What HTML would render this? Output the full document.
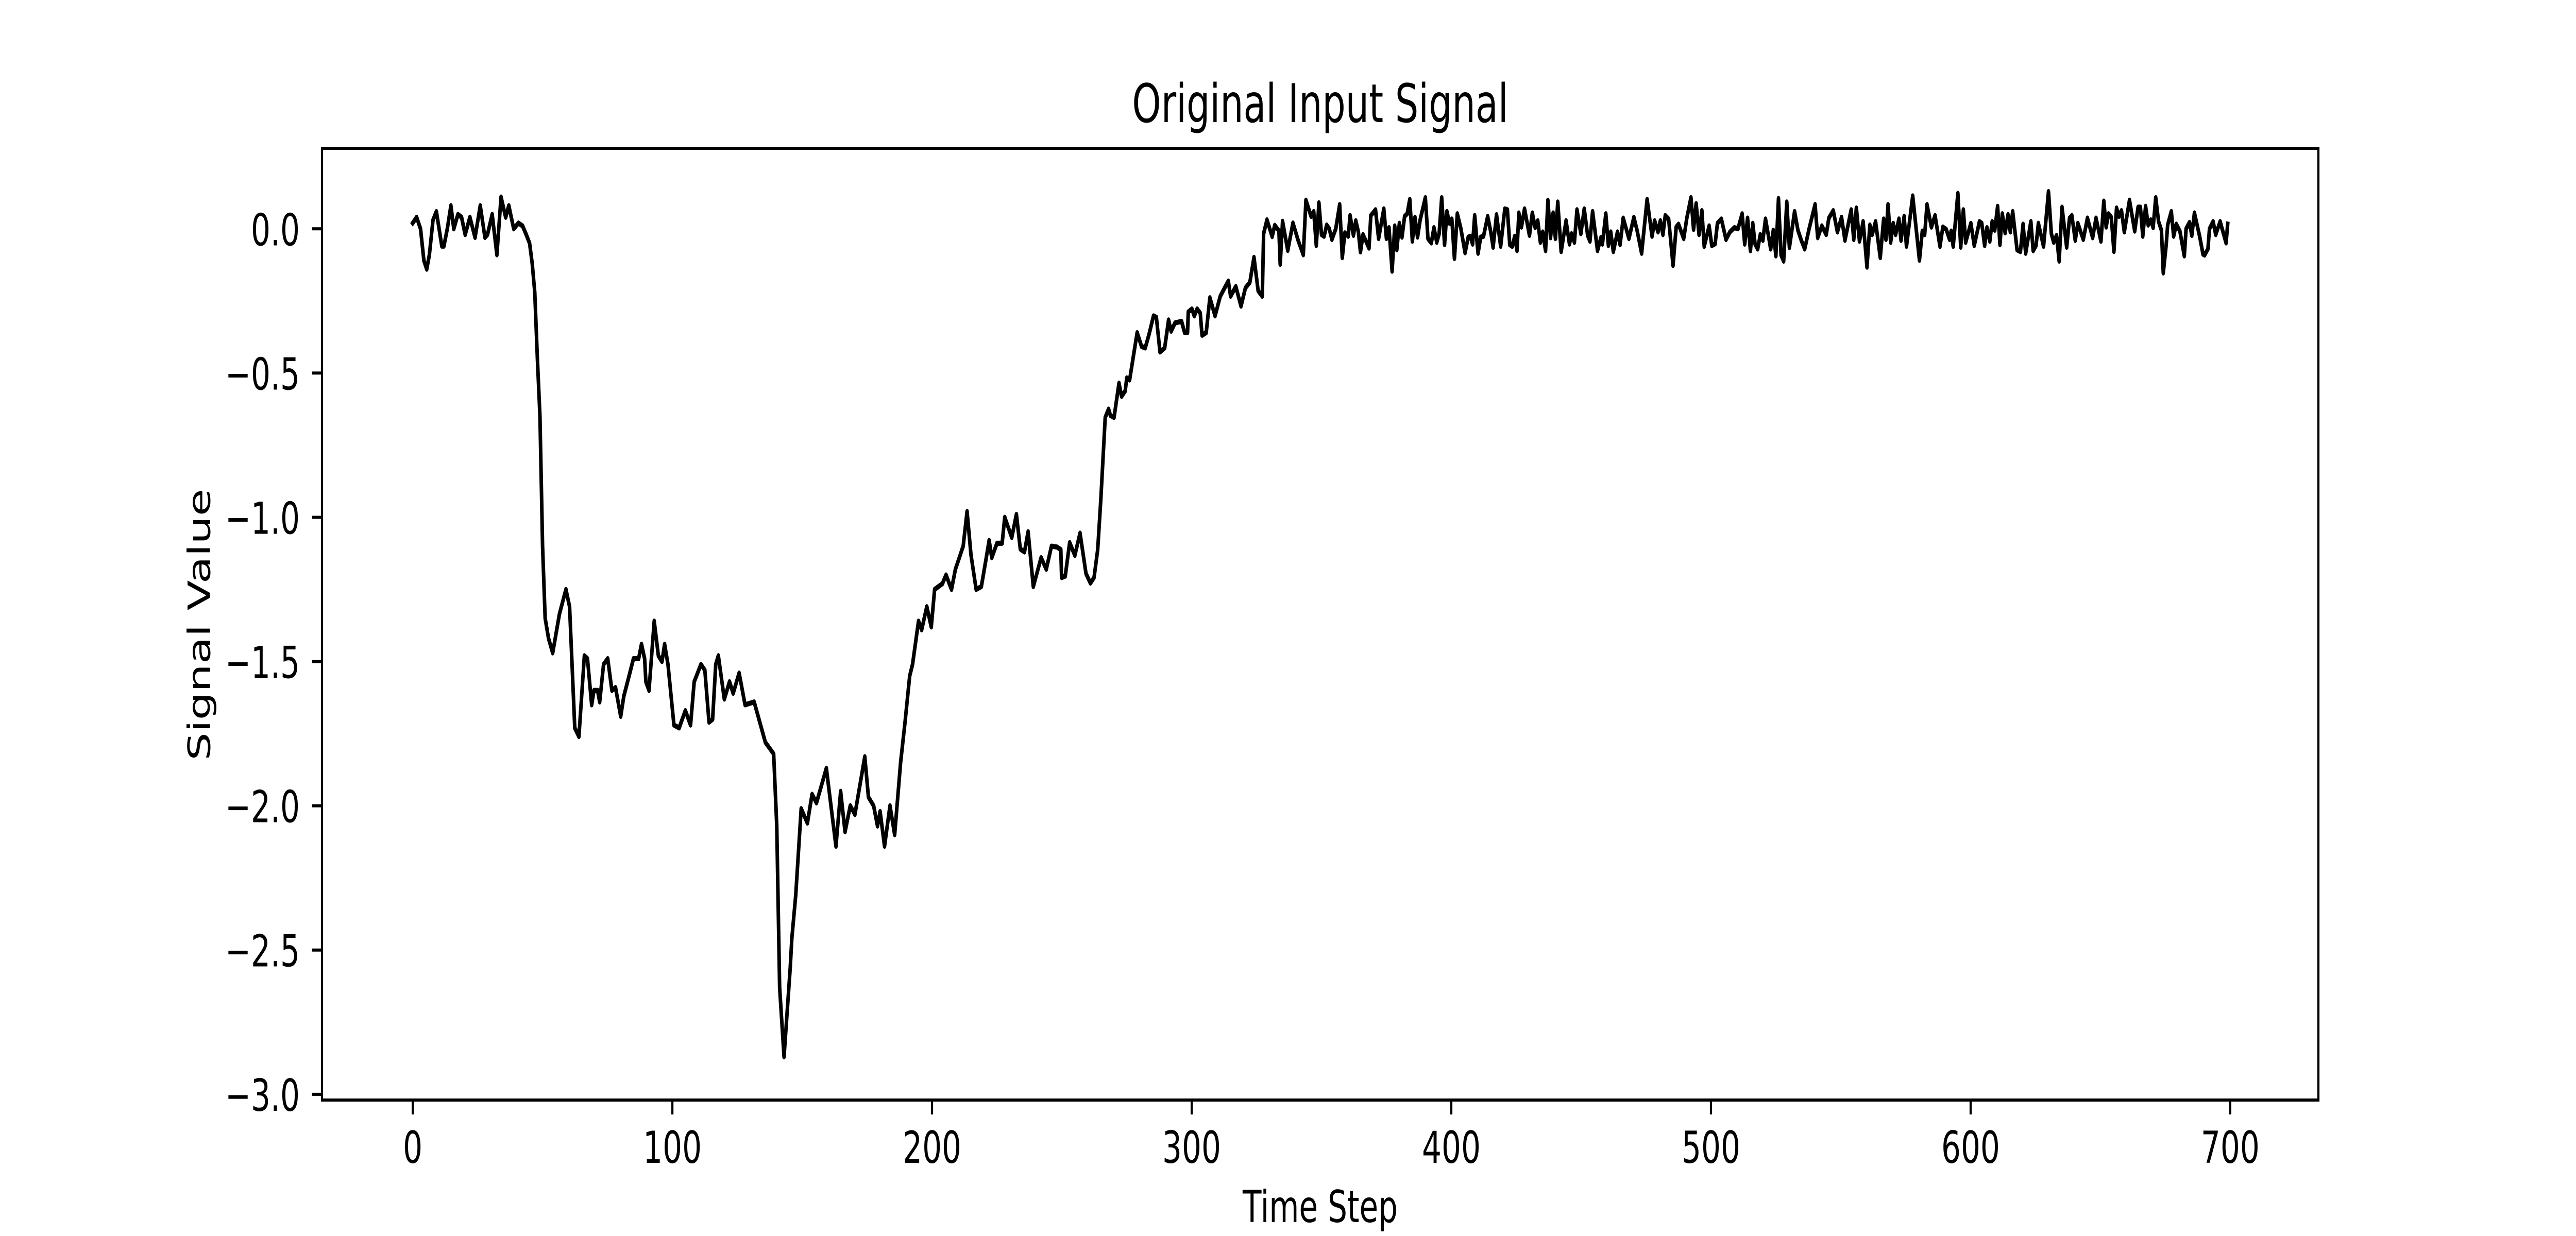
<!DOCTYPE html>
<html>
<head>
<meta charset="utf-8">
<style>
html,body{margin:0;padding:0;background:#fff;width:100%;height:100%;overflow:hidden;}
svg{display:block;width:100vw;height:100vh;font-family:"DejaVu Sans","Liberation Sans",sans-serif;}
</style>
</head>
<body>
<svg id="chart" viewBox="0 0 7200 2400" preserveAspectRatio="none" xmlns="http://www.w3.org/2000/svg">
<rect x="0" y="0" width="7200" height="2400" fill="#fff"/>
<text x="3690" y="237" font-size="103" text-anchor="middle">Original Input Signal</text>
<text x="3690" y="2373" font-size="86" text-anchor="middle">Time Step</text>
<text x="0" y="0" font-size="86" text-anchor="middle" transform="translate(587,1213) rotate(-90)">Signal Value</text>
<g id="xticks"></g>
<g id="yticks"></g>
<path id="line" fill="none" stroke="#000" stroke-width="10" stroke-linejoin="round" stroke-linecap="square"/>
<rect x="900" y="288" width="5580" height="1848" fill="none" stroke="#000" stroke-width="6"/>
</svg>
<script>
const timeSteps = [0,1.5,3,4.3,5.4,6.4,7.8,9.1,11.2,12,13.3,14.7,15.8,17.4,18.8,20.2,22,24,26,27.8,28.8,30.6,32.4,34,35.8,37,38.9,40.7,42.3,43.7,45,46,47,48,49,50,51,52.3,53.9,56.5,59,60.4,62.4,64,66.1,67.3,68.9,69.8,71.2,72,73.5,75.1,76.7,78.1,80.1,81.3,83.6,85,87,88.1,89.3,89.8,91,93,94.6,96,97,98.3,100.6,102.6,105,107,108.4,111,112.5,114.1,115.5,116.7,117.7,120,122,123.4,125.7,128,131.5,135.8,139,140.2,141.3,143,145.4,146,147.5,149.6,152,153.8,155.5,159.3,163,164.8,166.5,168.5,170.3,174.1,175.5,177.5,179,180,181.7,183.8,185.6,187.9,189.6,191.4,192.5,194.8,196,198,199.7,201,204,205.4,207.5,209,210.5,212,213.5,215,217,219,220.7,222,223,225,227,228,230.7,232.5,234,235.6,237,239,242,244,246,248.1,249.6,249.9,251.3,253,255,257,259.3,261,262.4,263.8,265,266.7,268,268.7,270.1,272,273,274.4,275,276.1,277.3,279,280.7,282.1,283.6,285.3,286.4,287.8,289.6,291.1,292.1,293.6,296.1,297.3,298.4,298.7,300.1,301,302.1,303.3,304,305.6,307,309,311,314.1,315,317,319,320.7,322.4,324,325.6,327.2,327.7,329,331,332,333.6,334.1,335,337,339,341,343,344,346,347,348,349,350,351,352,353,354,355.5,357,358,359,360.3,361,362.3,363.2,364.2,365,366,368.3,369,370.8,372,374,375,376,377.2,378.2,379,380,381,382,383,384,385,386,387,388,390,391,392.3,393.3,394.4,395.3,396.3,397.4,398.3,399.3,400.2,401.2,402.3,403.7,405.3,406.5,407.3,408.2,409,410.3,411.3,412.4,414,415.2,416.1,417.4,419,420.6,421.6,422.5,423.5,424.4,425.3,426,427,428.2,430.1,431.2,432.3,433.3,434.3,435.2,436.3,437.2,438.2,439.2,440.1,441,442.3,444.2,445.5,446.3,447.4,448.4,449.9,451.2,452.5,453.4,454.4,456.3,457.6,458.2,459.5,460.5,461.4,462.4,464,465,466.2,468.4,470.3,471.6,473.3,475.4,477.3,478.3,479.6,480.5,481.5,482.4,483.7,485.4,486.6,487.5,489.5,490.7,492.3,493.3,494.3,495.4,496.5,497.4,499.3,500.3,501.6,502.5,504,505.8,507.3,509,510.4,512,513,514.1,515.2,516.1,517,518,519,520,521,522,523,524,525,526,527,528,529.2,530.2,532.2,533.5,534.8,536.1,537.8,540.1,541.1,542.7,544.4,545.4,547.1,548.7,550.3,551.6,554,555,556,557.2,558.6,560.1,561.2,562.1,563.4,565.2,566.5,567.4,568.2,569.2,570.2,571.1,572.4,573.2,574.4,575.3,577.7,580.3,581.4,582.3,583.2,584.9,586.3,588.2,589.3,590.6,591.9,592.5,593.3,595.1,596.2,597.2,598.1,600.1,601.4,603.4,604.3,605.4,606.3,607.4,608.3,609.3,610.4,611.3,612.2,613.3,614.4,615.3,616.2,617.9,619.2,620.2,621.2,623.2,624.1,625.2,626.1,628.1,630,631.1,632,633.1,634.1,635.2,637,638.1,639,640.3,641.3,643.4,645,647,648.3,650.2,651.3,652.2,653.1,654.2,655.2,656.2,657.1,658.1,659.2,661.2,663.2,664.5,665.4,666.3,667.4,668.4,669.4,670.3,671.3,672.4,673.5,674.2,675.3,675.9,677.3,678.2,679.2,680.6,682.3,683,684.3,685.2,686.2,688.2,689.5,690.1,691.4,692,693.4,694.4,696.1,698.4,699];
const signalValues = [0.02,0.04,0.0,-0.11,-0.14,-0.09,0.03,0.06,-0.06,-0.06,0,0.08,0,0.05,0.04,-0.02,0.04,-0.03,0.08,-0.03,-0.02,0.05,-0.09,0.11,0.04,0.08,0.0,0.02,0.01,-0.02,-0.05,-0.12,-0.22,-0.45,-0.65,-1.1,-1.35,-1.42,-1.47,-1.335,-1.25,-1.31,-1.73,-1.76,-1.48,-1.49,-1.65,-1.6,-1.6,-1.64,-1.51,-1.49,-1.6,-1.59,-1.69,-1.62,-1.54,-1.49,-1.49,-1.44,-1.49,-1.57,-1.6,-1.36,-1.48,-1.5,-1.44,-1.51,-1.72,-1.73,-1.67,-1.72,-1.57,-1.51,-1.53,-1.71,-1.70,-1.51,-1.48,-1.63,-1.57,-1.61,-1.54,-1.65,-1.64,-1.78,-1.82,-2.07,-2.63,-2.87,-2.56,-2.46,-2.31,-2.01,-2.06,-1.96,-1.99,-1.87,-2.14,-1.95,-2.09,-2.0,-2.03,-1.83,-1.97,-2.0,-2.07,-2.02,-2.14,-2.0,-2.1,-1.85,-1.71,-1.55,-1.51,-1.36,-1.39,-1.31,-1.38,-1.25,-1.23,-1.2,-1.25,-1.18,-1.14,-1.1,-0.98,-1.13,-1.25,-1.24,-1.15,-1.08,-1.14,-1.09,-1.09,-1.0,-1.07,-0.99,-1.11,-1.12,-1.05,-1.24,-1.14,-1.18,-1.1,-1.103,-1.112,-1.209,-1.204,-1.088,-1.132,-1.055,-1.195,-1.228,-1.209,-1.112,-0.939,-0.654,-0.625,-0.647,-0.654,-0.535,-0.581,-0.562,-0.517,-0.524,-0.456,-0.36,-0.408,-0.413,-0.365,-0.302,-0.307,-0.427,-0.413,-0.316,-0.355,-0.326,-0.321,-0.36,-0.36,-0.288,-0.278,-0.302,-0.278,-0.292,-0.369,-0.36,-0.239,-0.302,-0.234,-0.181,-0.234,-0.2,-0.268,-0.205,-0.186,-0.099,-0.215,-0.234,-0.017,0.031,-0.027,0.012,-0.007,-0.123,0.026,-0.075,0.02,-0.04,-0.09,0.099,0.043,0.06,-0.058,0.09,-0.02,-0.026,0.013,0,-0.037,0,0.084,-0.1,-0.014,-0.026,0.046,-0.023,0.028,-0.011,-0.08,-0.02,-0.067,0.046,0.066,-0.034,0.069,-0.034,0.004,-0.147,0.01,-0.073,0.019,-0.029,0.043,0.052,0.102,-0.043,0.04,-0.029,0.031,0.108,-0.034,-0.049,0.004,-0.047,-0.017,0.108,-0.055,0.06,0.019,0.034,-0.103,0.052,0,-0.083,-0.029,-0.026,-0.053,0.046,-0.085,-0.029,-0.026,0.043,-0.011,-0.064,0.049,-0.061,0.069,0.066,-0.055,-0.061,-0.026,-0.076,0.055,0.006,0.069,-0.023,0.055,0.004,0.028,-0.047,-0.011,-0.076,0.099,-0.031,0.055,-0.034,0.093,-0.079,0.028,-0.053,-0.017,-0.047,0.066,-0.017,0.069,-0.023,-0.043,0.06,-0.076,-0.031,-0.053,0.052,-0.058,-0.011,-0.079,-0.011,-0.055,0.037,-0.034,0.04,-0.008,-0.085,0.102,-0.026,0.028,-0.011,0.028,-0.02,0.046,0.034,-0.127,0.006,0.016,-0.034,0.037,0.108,-0.002,0.087,-0.02,0.063,-0.061,0.01,-0.058,-0.052,0.019,0.034,-0.037,-0.011,0.004,0.0,0.052,-0.053,0.037,-0.076,0.019,-0.053,-0.07,-0.02,-0.04,0.034,-0.017,-0.07,-0.005,-0.094,0.105,-0.091,-0.112,0.093,-0.065,0.06,-0.005,-0.04,-0.07,0,0.084,-0.031,0.01,-0.02,0.037,0.063,-0.011,0.04,-0.04,0.066,-0.037,0.072,-0.043,0.025,-0.133,0.013,-0.02,0.025,-0.1,0.034,-0.037,0.084,-0.047,0.019,-0.02,0.034,-0.04,0.043,-0.061,0.114,-0.109,-0.008,-0.02,0.084,0.006,0.046,-0.061,0.006,-0.002,-0.037,-0.008,-0.061,0.123,-0.064,0.066,-0.047,0.019,-0.058,0.025,0.019,-0.058,0.004,-0.043,0.025,-0.005,0.078,-0.055,0.052,-0.014,0.049,-0.011,0.06,-0.073,-0.079,0.016,-0.085,0.025,-0.076,-0.058,0.019,-0.061,0.129,-0.017,-0.047,-0.023,-0.112,0.075,-0.064,0.037,0.046,-0.04,0.019,-0.037,0.037,-0.031,0.037,-0.043,0.096,0.006,0.052,0.04,-0.079,0.072,0.043,0.063,-0.011,0.099,-0.008,0.075,0.075,-0.026,0.078,0.013,0.031,0.004,0.108,0.025,-0.005,-0.153,-0.058,0.013,0.06,-0.026,0.016,-0.008,-0.094,0,0.022,-0.023,0.055,-0.026,-0.088,-0.091,-0.07,0,0.025,-0.02,0.025,-0.049,0.016];
const xTickValues = [0,100,200,300,400,500,600,700];
const yTickValues = [0.0,-0.5,-1.0,-1.5,-2.0,-2.5,-3.0];
const yTickLabels = ["0.0","\u22120.5","\u22121.0","\u22121.5","\u22122.0","\u22122.5","\u22123.0"];

const AX = {l:900, r:6480, t:288, b:2136};
const tMin = Math.min(...timeSteps), tMax = Math.max(...timeSteps);
const vMin = Math.min(...signalValues), vMax = Math.max(...signalValues);
const xPad = (tMax - tMin) * 0.05, yPad = (vMax - vMin) * 0.05;
const xDom = [tMin - xPad, tMax + xPad], yDom = [vMin - yPad, vMax + yPad];
function xScale(v){ return AX.l + (v - xDom[0]) / (xDom[1] - xDom[0]) * (AX.r - AX.l); }
function yScale(v){ return AX.b - (v - yDom[0]) / (yDom[1] - yDom[0]) * (AX.b - AX.t); }

const NS = "http://www.w3.org/2000/svg";
let d = "";
for (let i = 0; i < timeSteps.length; i++) {
  d += (i ? "L" : "M") + xScale(timeSteps[i]).toFixed(1) + "," + yScale(signalValues[i]).toFixed(1);
}
document.getElementById("line").setAttribute("d", d);

const xg = document.getElementById("xticks");
xTickValues.forEach(function(v){
  const x = xScale(v);
  const ln = document.createElementNS(NS, "line");
  ln.setAttribute("x1", x); ln.setAttribute("x2", x);
  ln.setAttribute("y1", AX.b); ln.setAttribute("y2", AX.b + 28);
  ln.setAttribute("stroke", "#000"); ln.setAttribute("stroke-width", "6");
  
  
  xg.appendChild(ln);
  const tx = document.createElementNS(NS, "text");
  tx.setAttribute("x", x); tx.setAttribute("y", 2258);
  tx.setAttribute("font-size", "86"); tx.setAttribute("text-anchor", "middle");
  tx.textContent = String(v);
  
  
  xg.appendChild(tx);
});
const yg = document.getElementById("yticks");
yTickValues.forEach(function(v, i){
  const y = yScale(v);
  const ln = document.createElementNS(NS, "line");
  ln.setAttribute("x1", AX.l - 28); ln.setAttribute("x2", AX.l);
  ln.setAttribute("y1", y); ln.setAttribute("y2", y);
  ln.setAttribute("stroke", "#000"); ln.setAttribute("stroke-width", "6");
  
  
  yg.appendChild(ln);
  const tx = document.createElementNS(NS, "text");
  tx.setAttribute("x", 838); tx.setAttribute("y", y + 32);
  tx.setAttribute("font-size", "86"); tx.setAttribute("text-anchor", "end");
  tx.textContent = yTickLabels[i];
  
  
  yg.appendChild(tx);
});
</script>
</body>
</html>
